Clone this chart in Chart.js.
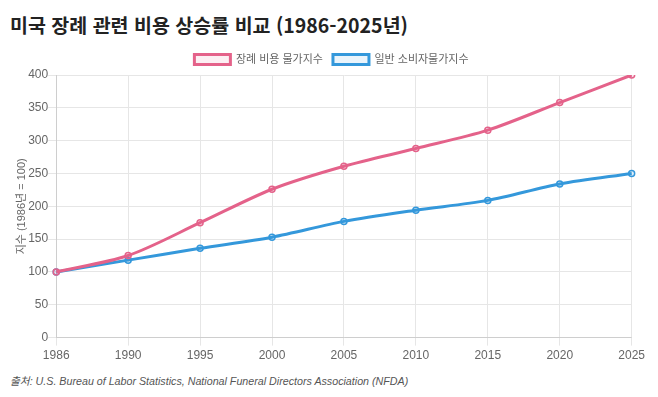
<!DOCTYPE html>
<html lang="ko">
<head>
<meta charset="utf-8">
<script src="https://cdn.jsdelivr.net/npm/chart.js@4.4.1/dist/chart.umd.min.js"></script>
<style>
    html, body { margin: 0; padding: 0; background: #fff; }
    body { width: 658px; height: 397px; overflow: hidden; font-family: 'Noto Sans CJK KR', 'Liberation Sans', sans-serif; }
    .title { position: absolute; left: 10px; top: 10px; margin: 0; font-size: 19.5px; font-weight: bold; color: #222; }
    .chart-box { position: absolute; left: 7px; top: 44px; width: 641px; height: 322px; }
    .source { position: absolute; left: 10px; top: 373px; margin: 0; font-size: 10.7px; font-style: italic; color: #555; font-family: 'Liberation Sans', 'Noto Sans CJK KR', sans-serif; }
</style>
</head>
<body>
<h1 class="title">미국 장례 관련 비용 상승률 비교 (1986-2025년)</h1>
<div class="chart-box"><canvas id="costChart"></canvas></div>
<p class="source">출처: U.S. Bureau of Labor Statistics, National Funeral Directors Association (NFDA)</p>
<script>
const years = ['1986', '1990', '1995', '2000', '2005', '2010', '2015', '2020', '2025'];
const funeralIndex = [100, 125, 175, 226, 261, 288, 316, 358, 400];
const cpiIndex = [100, 118, 136, 153, 177, 194, 209, 234, 250];
const seriesNames = ['장례 비용 물가지수', '일반 소비자물가지수'];

document.addEventListener("DOMContentLoaded", function() {
    Chart.defaults.font.family = "'Liberation Sans', 'Noto Sans CJK KR', sans-serif";
    Chart.defaults.color = '#666';

    const ctx = document.getElementById('costChart').getContext('2d');

    new Chart(ctx, {
        type: 'line',
        data: {
            labels: years,
            datasets: [{
                label: seriesNames[0],
                data: funeralIndex,
                borderColor: '#e4628a',
                backgroundColor: 'rgba(228, 98, 138, 0.1)',
                borderWidth: 3,
                pointRadius: 3,
                pointBorderWidth: 1.5,
                pointBackgroundColor: 'rgba(228, 98, 138, 0.15)',
                tension: 0.3
            }, {
                label: seriesNames[1],
                data: cpiIndex,
                borderColor: '#3498db',
                backgroundColor: 'rgba(52, 152, 219, 0.1)',
                borderWidth: 3,
                pointRadius: 3,
                pointBorderWidth: 1.5,
                pointBackgroundColor: 'rgba(52, 152, 219, 0.15)',
                tension: 0.3
            }]
        },
        options: {
            responsive: true,
            maintainAspectRatio: false,
            animation: false,
            layout: { padding: { left: 8 } },
            plugins: {
                legend: {
                    position: 'top',
                    labels: {
                        boxWidth: 36,
                        boxHeight: 10,
                        font: { size: 11 }
                    }
                }
            },
            scales: {
                y: {
                    min: 0,
                    max: 400,
                    ticks: { stepSize: 50, padding: 0, font: { size: 12 } },
                    grid: { color: '#e6e6e6' },
                    title: {
                        display: true,
                        text: '지수 (1986년 = 100)',
                        padding: { top: 0, bottom: 0 },
                        font: { size: 11 }
                    }
                },
                x: {
                    ticks: { font: { size: 12 } },
                    grid: { color: '#e6e6e6' }
                }
            }
        }
    });
});
</script>
</body>
</html>
